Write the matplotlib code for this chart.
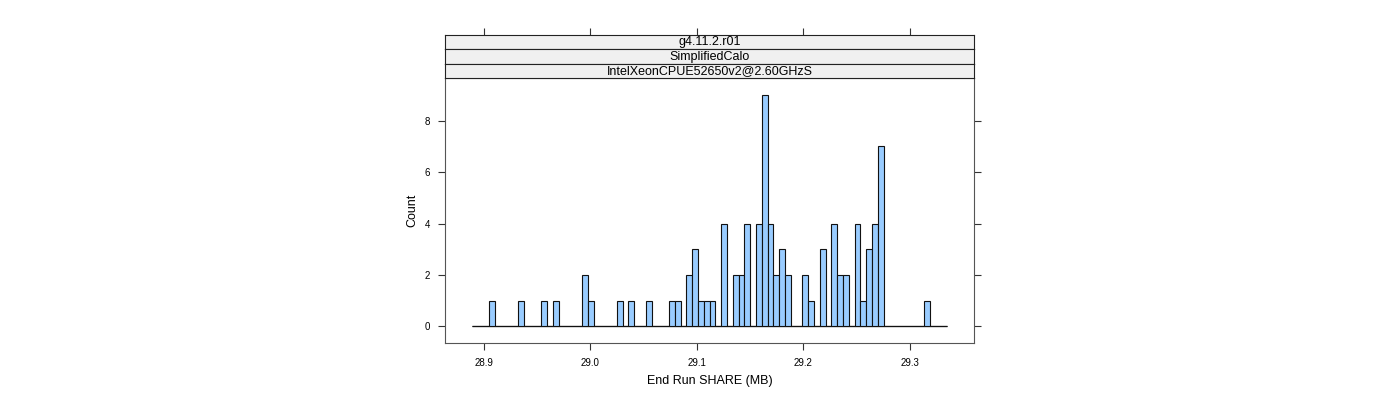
import numpy as np
import matplotlib
matplotlib.use("Agg")
import matplotlib.pyplot as plt

plt.rcParams['font.family'] = ['Liberation Sans', 'DejaVu Sans']

# ---- data ----
strip_labels = ["g4.11.2.r01", "SimplifiedCalo", "IntelXeonCPUE52650v2@2.60GHzS"]
break_start = 28.8888
break_end = 29.3353
counts = [0, 0, 0, 1, 0, 0, 0, 0, 1, 0,
          0, 0, 1, 0, 1, 0, 0, 0, 0, 2,
          1, 0, 0, 0, 0, 1, 0, 1, 0, 0,
          1, 0, 0, 0, 1, 1, 0, 2, 3, 1,
          1, 1, 0, 4, 0, 2, 2, 4, 0, 4,
          9, 4, 2, 3, 2, 0, 0, 2, 1, 0,
          3, 0, 4, 2, 2, 0, 4, 1, 3, 4,
          7, 0, 0, 0, 0, 0, 0, 0, 1, 0,
          0, 0]
x_ticks = [28.9, 29.0, 29.1, 29.2, 29.3]
y_ticks = [0, 2, 4, 6, 8]
x_label = "End Run SHARE (MB)"
y_label = "Count"

edges = np.linspace(break_start, break_end, len(counts) + 1)
widths = np.diff(edges)

W, H = 1400, 400
fig = plt.figure(figsize=(14, 4), dpi=100)

px_l, px_r = 445, 974
px_top, px_bot = 78, 343
strip_h = 14.33

ax = fig.add_axes([px_l / W, 1 - px_bot / H, (px_r - px_l) / W, (px_bot - px_top) / H])
ax.hlines(0, edges[0], edges[-1], color='#111111', linewidth=0.9, zorder=1)
ax.bar(edges[:-1], counts, width=widths, align='edge', color='#99CCFF',
       edgecolor='#111111', linewidth=0.8, zorder=2)
ax.set_xlim(28.8637, 29.3603)
ax.set_ylim(-0.645, 9.66)
ax.set_xticks(x_ticks)
ax.set_xticklabels([f"{t:.1f}" for t in x_ticks])
ax.set_yticks(y_ticks)
ax.tick_params(axis='both', direction='out', length=5, width=0.8, color='#333333',
               labelsize=7, pad=6)
ax.tick_params(axis='y', right=True, labelright=False)
for s in ax.spines.values():
    s.set_color('#555555')
    s.set_linewidth(0.8)
ax.set_xlabel(x_label, fontsize=9, labelpad=5)
ax.set_ylabel(y_label, fontsize=9, labelpad=4)

# strips
for i, lab in enumerate(strip_labels):
    top_px = px_top - strip_h * (len(strip_labels) - i)
    sax = fig.add_axes([px_l / W, 1 - (top_px + strip_h) / H, (px_r - px_l) / W, strip_h / H],
                       sharex=ax)
    sax.set_facecolor('#F0F0F0')
    sax.set_yticks([])
    sax.tick_params(axis='x', bottom=False, labelbottom=False)
    if i == 0:
        sax.tick_params(axis='x', top=True, labeltop=False, direction='out',
                        length=5, width=0.8, color='#333333')
    for s in sax.spines.values():
        s.set_color('#222222')
        s.set_linewidth(0.8)
    sax.text(0.5, 0.5, lab, transform=sax.transAxes, ha='center', va='center',
             fontsize=9)

fig.savefig("out.png", dpi=100)
